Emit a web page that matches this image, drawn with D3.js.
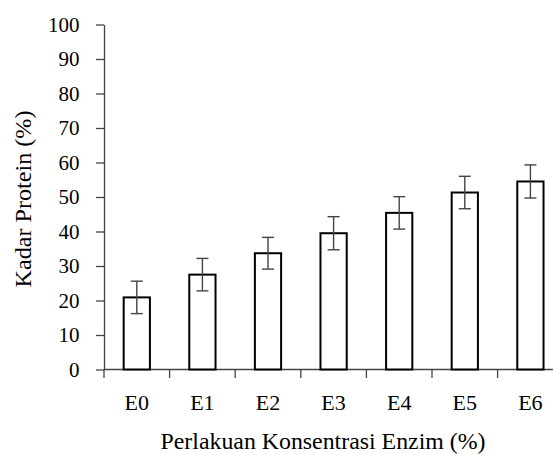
<!DOCTYPE html>
<html>
<head>
<meta charset="utf-8">
<script src="https://cdn.jsdelivr.net/npm/d3@7"></script>
<style>
  html, body { margin: 0; padding: 0; background: #fff; }
  svg { display: block; }
</style>
</head>
<body>
<svg id="chart" width="553" height="455" font-family="Liberation Serif"></svg>
<script>
const categories = ["E0", "E1", "E2", "E3", "E4", "E5", "E6"];
const values = [20.9, 27.5, 33.7, 39.5, 45.4, 51.3, 54.5];
const errors = [4.7, 4.7, 4.6, 4.8, 4.7, 4.7, 4.8];
const yTicks = [0, 10, 20, 30, 40, 50, 60, 70, 80, 90, 100];
const xTitle = "Perlakuan Konsentrasi Enzim (%)";
const yTitle = "Kadar Protein (%)";

const FONT = "Liberation Serif";
const svg = d3.select("#chart");
const x0 = 104, plotRight = 104 + 7 * 65.6;
const yBottom = 369.5, yTop = 24.5;
const axisColor = "#444";

const x = d3.scaleBand().domain(categories).range([x0, plotRight])
  .paddingInner(0.6).paddingOuter(0.3);
const y = d3.scaleLinear().domain([0, 100]).range([yBottom, yTop]);

// Y axis
const yAxis = svg.append("g").attr("transform", `translate(${x0},0)`)
  .call(d3.axisLeft(y).tickValues(yTicks).tickSize(8).tickPadding(16.5).tickSizeOuter(0));
yAxis.attr("font-family", FONT).attr("font-size", 21);
yAxis.select(".domain").attr("stroke", axisColor).attr("stroke-width", 1.3);
yAxis.selectAll(".tick line").attr("stroke", axisColor).attr("stroke-width", 1.3);
yAxis.selectAll(".tick text").attr("font-family", FONT).attr("font-size", 21).attr("fill", "#000");

// X axis line and boundary ticks
const step = x.step();
const bounds = d3.range(categories.length + 1).map(i => x0 + i * step);
svg.append("line").attr("x1", x0).attr("x2", plotRight).attr("y1", yBottom).attr("y2", yBottom)
  .attr("stroke", axisColor).attr("stroke-width", 1.3);
svg.selectAll(".xtick").data(bounds).enter().append("line")
  .attr("x1", d => d).attr("x2", d => d).attr("y1", yBottom).attr("y2", yBottom + 8.5)
  .attr("stroke", axisColor).attr("stroke-width", 1.3);

// Bars
svg.selectAll(".bar").data(values).enter().append("rect")
  .attr("x", (d, i) => x(categories[i]))
  .attr("width", x.bandwidth())
  .attr("y", d => y(d))
  .attr("height", d => y(0) - y(d))
  .attr("fill", "#fff").attr("stroke", "#000").attr("stroke-width", 2);

// Error bars
const cap = 6;
const eb = svg.selectAll(".eb").data(values).enter().append("g")
  .attr("transform", (d, i) => `translate(${x(categories[i]) + x.bandwidth() / 2},0)`);
eb.append("line").attr("x1", 0).attr("x2", 0)
  .attr("y1", (d, i) => y(d + errors[i])).attr("y2", (d, i) => y(d - errors[i]))
  .attr("stroke", axisColor).attr("stroke-width", 1.4);
eb.append("line").attr("x1", -cap).attr("x2", cap)
  .attr("y1", (d, i) => y(d + errors[i])).attr("y2", (d, i) => y(d + errors[i]))
  .attr("stroke", axisColor).attr("stroke-width", 1.4);
eb.append("line").attr("x1", -cap).attr("x2", cap)
  .attr("y1", (d, i) => y(d - errors[i])).attr("y2", (d, i) => y(d - errors[i]))
  .attr("stroke", axisColor).attr("stroke-width", 1.4);

// X category labels
svg.selectAll(".xl").data(categories).enter().append("text")
  .attr("x", d => x(d) + x.bandwidth() / 2).attr("y", 410)
  .attr("text-anchor", "middle")
  .attr("font-family", FONT).attr("font-size", 22).attr("fill", "#000")
  .text(d => d);

// Titles
svg.append("text").attr("x", 323).attr("y", 449).attr("text-anchor", "middle")
  .attr("font-family", FONT).attr("font-size", 22.5).attr("fill", "#000")
  .attr("textLength", 325).attr("lengthAdjust", "spacingAndGlyphs")
  .text(xTitle);
svg.append("text").attr("transform", "translate(31,199) rotate(-90)")
  .attr("text-anchor", "middle")
  .attr("font-family", FONT).attr("font-size", 22.5).attr("fill", "#000")
  .attr("textLength", 177).attr("lengthAdjust", "spacingAndGlyphs")
  .text(yTitle);
</script>
</body>
</html>
